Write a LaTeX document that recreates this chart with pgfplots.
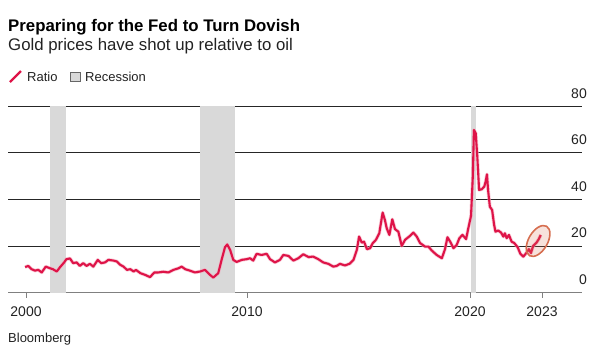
\documentclass[border=0pt]{standalone}
\usepackage{pgfplots}
\usepackage{pgfplotstable}
\pgfplotsset{compat=1.18}
\usepackage{fontspec}
\setmainfont{Liberation Sans}
\definecolor{ratio}{RGB}{222,20,72}
\definecolor{halo}{RGB}{245,170,190}
\definecolor{recg}{RGB}{217,217,217}
\definecolor{ring}{RGB}{214,110,80}
\definecolor{txt}{RGB}{34,34,34}
\pgfplotstableread{
x y
1999.96 10.9
2000.1 11.4
2000.25 10.0
2000.4 9.4
2000.55 9.7
2000.7 8.6
2000.88 11.1
2001.07 10.4
2001.2 10.0
2001.37 9.0
2001.52 10.9
2001.7 12.9
2001.8 14.3
2001.96 14.6
2002.1 12.6
2002.26 12.9
2002.4 11.4
2002.55 12.6
2002.7 11.4
2002.85 12.3
2003.0 11.1
2003.2 14.0
2003.35 12.6
2003.52 12.9
2003.67 14.0
2003.9 13.7
2004.05 13.3
2004.2 11.9
2004.35 11.1
2004.5 9.7
2004.65 10.0
2004.8 9.0
2004.9 9.7
2005.1 8.3
2005.3 7.6
2005.53 6.6
2005.72 8.6
2005.9 8.6
2006.12 8.9
2006.35 8.6
2006.57 9.7
2006.8 10.4
2006.94 11.1
2007.1 10.0
2007.3 9.4
2007.53 8.6
2007.76 9.0
2007.98 9.7
2008.2 7.6
2008.35 6.4
2008.57 8.3
2008.72 14.0
2008.87 19.4
2008.97 20.6
2009.1 18.3
2009.24 14.0
2009.39 13.1
2009.62 14.0
2009.84 14.3
2009.99 14.7
2010.13 13.7
2010.28 16.6
2010.5 16.1
2010.73 16.6
2010.88 14.3
2011.1 12.9
2011.32 14.0
2011.47 16.1
2011.7 15.7
2011.92 13.7
2012.14 14.7
2012.36 16.4
2012.6 15.2
2012.8 15.4
2013.03 14.3
2013.25 12.9
2013.48 12.3
2013.7 11.1
2013.85 11.4
2014.0 12.3
2014.22 11.6
2014.44 12.4
2014.6 14.0
2014.75 18.3
2014.85 24.0
2014.97 21.4
2015.07 21.8
2015.2 18.6
2015.34 19.0
2015.46 21.2
2015.6 22.6
2015.75 25.4
2015.9 34.3
2016.0 31.1
2016.08 27.6
2016.2 24.7
2016.33 31.4
2016.45 27.2
2016.6 26.1
2016.75 20.0
2016.9 22.6
2017.12 24.3
2017.27 25.7
2017.42 24.0
2017.57 21.2
2017.79 19.7
2017.94 19.7
2018.09 18.0
2018.31 16.1
2018.54 14.7
2018.68 18.6
2018.79 23.7
2018.91 21.8
2019.06 19.0
2019.2 20.4
2019.32 23.3
2019.46 24.7
2019.62 22.9
2019.72 27.6
2019.84 32.9
2019.92 49.7
2019.97 69.7
2020.05 68.3
2020.12 58.3
2020.2 44.0
2020.32 44.3
2020.43 45.4
2020.49 47.5
2020.55 50.7
2020.6 44.0
2020.68 36.8
2020.78 35.4
2020.87 29.0
2020.93 26.1
2021.05 26.6
2021.18 25.7
2021.28 24.0
2021.35 25.4
2021.43 23.3
2021.53 24.7
2021.65 21.8
2021.77 21.2
2021.92 19.4
2022.04 16.6
2022.17 15.4
2022.32 17.1
2022.42 18.6
2022.51 16.9
2022.61 20.0
2022.76 21.4
2022.86 22.9
2022.95 24.7
}\ratiodata
\begin{document}
\begin{tikzpicture}
% title block
\node[anchor=base west,inner sep=0pt,text=black] at (8bp,-31.5bp) {\fontsize{16.8bp}{20bp}\selectfont\bfseries Preparing for the Fed to Turn Dovish};
\node[anchor=base west,inner sep=0pt,text=txt] at (8bp,-50.7bp) {\fontsize{16.8bp}{20bp}\selectfont Gold prices have shot up relative to oil};
% legend
\draw[ratio,line width=2.2bp] (10bp,-82bp) -- (21bp,-71bp);
\node[anchor=base west,inner sep=0pt,text=txt] at (27bp,-81bp) {\fontsize{13bp}{15bp}\selectfont Ratio};
\draw[fill=recg,draw=black!60,line width=0.8bp] (70bp,-72bp) rectangle (80bp,-81bp);
\node[anchor=base west,inner sep=0pt,text=txt] at (85bp,-81bp) {\fontsize{13bp}{15bp}\selectfont Recession};
% source
\node[anchor=base west,inner sep=0pt,text=txt] at (8bp,-342.3bp) {\fontsize{13bp}{15bp}\selectfont Bloomberg};
\begin{axis}[
  at={(8bp,-292.5bp)}, anchor=south west,
  scale only axis, width=574bp, height=186.5bp,
  xmin=1999.197, xmax=2024.788, ymin=0, ymax=80,
  axis x line*=bottom, axis y line*=right,
  x axis line style={draw=black!50,line width=1.3bp,-},
  y axis line style={draw=none},
  xtick={2000,2009.853,2019.795,2023.005},
  xticklabels={2000,2010,2020,2023},
  ytick={0,20,40,60,80},
  yticklabels={0,20,40,60,80},
  /pgf/number format/assume math mode=true,
  ymajorgrids, grid style={draw=black!85,line width=0.7bp},
  tick align=outside,
  xtick style={draw=black!50,line width=1bp},
  major tick length=5bp,
  ytick style={draw=none},
  xticklabel style={font=\fontsize{14bp}{16bp}\selectfont, text=txt, anchor=base, inner sep=0pt, yshift=-19bp},
  yticklabel style={font=\fontsize{14bp}{16bp}\selectfont, text=txt, anchor=base east, inner sep=0pt, yshift=8bp},
  clip=false,
]
% recession bands
\addplot[fill=recg,draw=none] coordinates {(2001.07,0) (2001.07,80) (2001.78,80) (2001.78,0)} -- cycle;
\addplot[fill=recg,draw=none] coordinates {(2007.76,0) (2007.76,80) (2009.32,80) (2009.32,0)} -- cycle;
\addplot[fill=recg,draw=none] coordinates {(2019.83,0) (2019.83,80) (2020.05,80) (2020.05,0)} -- cycle;
% ratio (soft halo, then line)
\addplot[halo,line width=3.6bp,line join=round,opacity=0.6] table[x=x,y=y] {\ratiodata};
\addplot[ratio,line width=2.1bp,line join=round] table[x=x,y=y] {\ratiodata};
% annotation ring
\draw[ring,line width=1.6bp,fill=ring,fill opacity=0.2,rotate around={60:(axis cs:2022.83,22.1)}] (axis cs:2022.83,22.1) ellipse [x radius=17bp, y radius=9.5bp];
\end{axis}
\pgfresetboundingbox
\path[use as bounding box] (0,0) rectangle (600bp,-354bp);
\end{tikzpicture}
\end{document}
